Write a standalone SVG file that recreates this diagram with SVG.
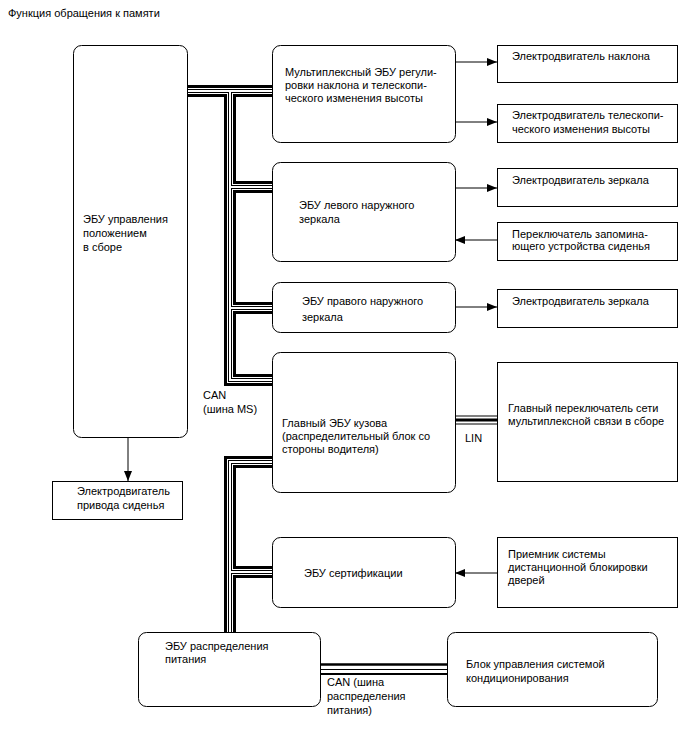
<svg xmlns="http://www.w3.org/2000/svg" xmlns:xlink="http://www.w3.org/1999/xlink" width="688" height="755" viewBox="0 0 688 755">
<defs>
<style>
text{font-family:"Liberation Sans",Arial,sans-serif;font-size:11px;fill:#000}
.rb{fill:#fff;stroke:#000;stroke-width:1}
.sb{fill:#fff;stroke:#000;stroke-width:1}
.ar{fill:none;stroke:#000;stroke-width:1}
.b1{fill:none;stroke:#000;stroke-width:12}
.b2{fill:none;stroke:#fff;stroke-width:6}
.b3{fill:none;stroke:#000;stroke-width:4}
.b4{fill:none;stroke:#fff;stroke-width:2}
.l1{fill:none;stroke:#000;stroke-width:9}
.l2{fill:none;stroke:#fff;stroke-width:7}
.l3{fill:none;stroke:#000;stroke-width:3}
</style>
<marker id="ah" viewBox="0 0 10 8" refX="10" refY="4" markerWidth="10" markerHeight="8" markerUnits="userSpaceOnUse" orient="auto">
<path d="M0,0 L10,4 L0,8 z" fill="#000"/>
</marker>
<path id="can1" d="M187,91 H272 M230,91 V380 H272 M230,187 H272 M230,308 H272"/>
<path id="can2" d="M272,462 H230 V632 M230,572 H272"/>
<path id="lin" d="M455,420 H497"/>
</defs>
<rect width="688" height="755" fill="#fff"/>
<text x="8" y="17">Функция обращения к памяти</text>

<g id="connectors">
<use xlink:href="#can1" class="b1"/>
<use xlink:href="#can2" class="b1"/>
<use xlink:href="#can1" class="b2"/>
<use xlink:href="#can2" class="b2"/>
<use xlink:href="#can1" class="b3"/>
<use xlink:href="#can2" class="b3"/>
<use xlink:href="#can1" class="b4"/>
<use xlink:href="#can2" class="b4"/>
<use xlink:href="#lin" class="l1"/>
<use xlink:href="#lin" class="l2"/>
<use xlink:href="#lin" class="l3"/>
<line x1="320" y1="664.5" x2="447" y2="664.5" stroke="#000" stroke-width="2.5"/>
<line x1="320" y1="669.5" x2="447" y2="669.5" stroke="#000" stroke-width="1.2"/>
<line x1="320" y1="674" x2="447" y2="674" stroke="#000" stroke-width="1.8"/>
<line class="ar" x1="128" y1="437" x2="128" y2="481" marker-end="url(#ah)"/>
<line class="ar" x1="455" y1="62" x2="497" y2="62" marker-end="url(#ah)"/>
<line class="ar" x1="455" y1="122" x2="497" y2="122" marker-end="url(#ah)"/>
<line class="ar" x1="455" y1="188" x2="497" y2="188" marker-end="url(#ah)"/>
<line class="ar" x1="497" y1="240" x2="455" y2="240" marker-end="url(#ah)"/>
<line class="ar" x1="455" y1="307" x2="497" y2="307" marker-end="url(#ah)"/>
<line class="ar" x1="497" y1="573" x2="455" y2="573" marker-end="url(#ah)"/>
<text x="203" y="399">CAN</text>
<text x="203" y="413">(шина MS)</text>
<text x="465" y="442">LIN</text>
<text x="327" y="686">CAN (шина</text>
<text x="327" y="700">распределения</text>
<text x="327" y="714">питания)</text>
</g>

<g id="pos-ecu">
<rect class="rb" x="73.5" y="45.5" width="114" height="392" rx="8"/>
<text x="83" y="223">ЭБУ управления</text>
<text x="83" y="237">положением</text>
<text x="83" y="251">в сборе</text>
</g>
<g id="seat-motor">
<rect class="sb" x="52.5" y="481.5" width="130" height="38"/>
<text x="77" y="495">Электродвигатель</text>
<text x="77" y="509">привода сиденья</text>
</g>
<g id="mpx-ecu">
<rect class="rb" x="272.5" y="45.5" width="183" height="97" rx="8"/>
<text x="285" y="76">Мультиплексный ЭБУ регули-</text>
<text x="285" y="89">ровки наклона и телескопи-</text>
<text x="285" y="102">ческого изменения высоты</text>
</g>
<g id="tilt-motor">
<rect class="sb" x="497.5" y="45.5" width="180" height="37"/>
<text x="512" y="60">Электродвигатель наклона</text>
</g>
<g id="tele-motor">
<rect class="sb" x="497.5" y="104.5" width="180" height="38"/>
<text x="512" y="119">Электродвигатель телескопи-</text>
<text x="512" y="133">ческого изменения высоты</text>
</g>
<g id="lmirror-ecu">
<rect class="rb" x="272.5" y="162.5" width="183" height="99" rx="8"/>
<text x="299" y="209">ЭБУ левого наружного</text>
<text x="299" y="223">зеркала</text>
</g>
<g id="lmirror-motor">
<rect class="sb" x="497.5" y="168.5" width="180" height="38"/>
<text x="512" y="184">Электродвигатель зеркала</text>
</g>
<g id="mem-switch">
<rect class="sb" x="497.5" y="222.5" width="180" height="38"/>
<text x="512" y="238">Переключатель запомина-</text>
<text x="512" y="250">ющего устройства сиденья</text>
</g>
<g id="rmirror-ecu">
<rect class="rb" x="272.5" y="282.5" width="183" height="50" rx="8"/>
<text x="302" y="305">ЭБУ правого наружного</text>
<text x="302" y="321">зеркала</text>
</g>
<g id="rmirror-motor">
<rect class="sb" x="497.5" y="289.5" width="180" height="38"/>
<text x="512" y="305">Электродвигатель зеркала</text>
</g>
<g id="body-ecu">
<rect class="rb" x="272.5" y="352.5" width="183" height="140" rx="8"/>
<text x="282" y="427">Главный ЭБУ кузова</text>
<text x="282" y="440">(распределительный блок со</text>
<text x="282" y="453">стороны водителя)</text>
</g>
<g id="mpx-switch">
<rect class="sb" x="497.5" y="362.5" width="180" height="119"/>
<text x="508" y="412">Главный переключатель сети</text>
<text x="508" y="425">мультиплексной связи в сборе</text>
</g>
<g id="cert-ecu">
<rect class="rb" x="272.5" y="537.5" width="183" height="70" rx="8"/>
<text x="304" y="577">ЭБУ сертификации</text>
</g>
<g id="door-receiver">
<rect class="sb" x="497.5" y="537.5" width="180" height="70"/>
<text x="508" y="558">Приемник системы</text>
<text x="508" y="571">дистанционной блокировки</text>
<text x="508" y="584">дверей</text>
</g>
<g id="power-ecu">
<rect class="rb" x="138.5" y="632.5" width="182" height="74" rx="8"/>
<text x="165" y="650">ЭБУ распределения</text>
<text x="165" y="663">питания</text>
</g>
<g id="ac-ecu">
<rect class="rb" x="447.5" y="632.5" width="210" height="74" rx="8"/>
<text x="466" y="668">Блок управления системой</text>
<text x="466" y="682">кондиционирования</text>
</g>
</svg>
